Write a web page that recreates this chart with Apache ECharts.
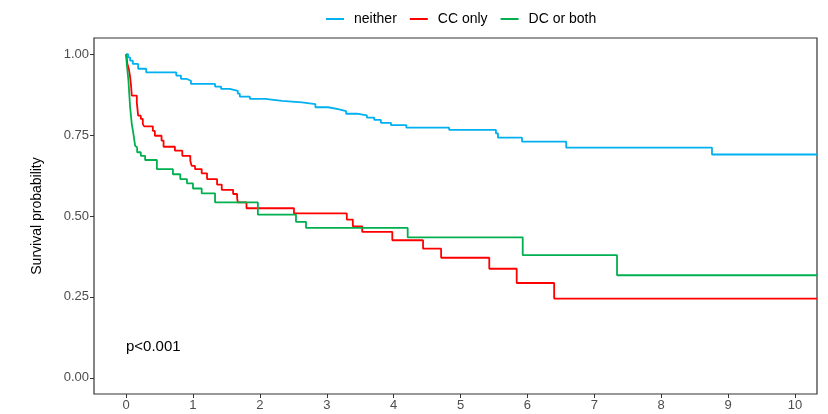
<!DOCTYPE html>
<html>
<head>
<meta charset="utf-8">
<script src="https://cdn.jsdelivr.net/npm/echarts@6/dist/echarts.min.js"></script>
<style>
html,body{margin:0;padding:0;background:#fff;}
#chart{width:828px;height:414px;}
</style>
</head>
<body>
<div id="chart"></div>
<script>
// Legend / group names
var groupNames = ['neither', 'CC only', 'DC or both'];

// Kaplan-Meier step points (time, survival)
var neitherTime = [0, 0.03, 0.06, 0.1, 0.18, 0.3, 0.75, 0.82, 0.9, 0.97, 1.33, 1.42, 1.55, 1.67, 1.7, 1.85, 2.08, 2.33, 2.63, 2.83, 3.02, 3.17, 3.29, 3.45, 3.6, 3.71, 3.81, 3.96, 4.19, 4.83, 5.53, 5.56, 5.92, 6.58, 8.76, 10.33];
var neitherSurv = [1, 0.99, 0.98, 0.97, 0.955, 0.944, 0.934, 0.924, 0.918, 0.908, 0.900, 0.893, 0.887, 0.878, 0.869, 0.862, 0.856, 0.851, 0.846, 0.836, 0.830, 0.824, 0.816, 0.811, 0.804, 0.797, 0.788, 0.781, 0.773, 0.766, 0.755, 0.742, 0.730, 0.711, 0.690, 0.690];

var ccTime = [0, 0.02, 0.04, 0.06, 0.075, 0.085, 0.16, 0.18, 0.22, 0.25, 0.27, 0.4, 0.43, 0.53, 0.56, 0.73, 0.84, 0.96, 0.98, 1.03, 1.13, 1.21, 1.36, 1.43, 1.6, 1.66, 1.67, 1.8, 2.51, 3.3, 3.39, 3.53, 3.98, 4.44, 4.71, 5.43, 5.84, 6.4, 10.33];
var ccSurv = [1, 0.97, 0.955, 0.93, 0.9, 0.872, 0.851, 0.81, 0.8, 0.784, 0.777, 0.763, 0.748, 0.733, 0.714, 0.702, 0.686, 0.67, 0.655, 0.645, 0.632, 0.614, 0.597, 0.581, 0.568, 0.555, 0.542, 0.524, 0.508, 0.489, 0.468, 0.451, 0.425, 0.399, 0.371, 0.337, 0.293, 0.245, 0.245];

var dcTime = [0, 0.01, 0.035, 0.06, 0.085, 0.11, 0.135, 0.15, 0.165, 0.22, 0.284, 0.46, 0.70, 0.81, 0.91, 1.0, 1.13, 1.33, 1.97, 2.54, 2.69, 4.21, 5.93, 7.34, 10.33];
var dcSurv = [1, 0.97, 0.918, 0.836, 0.784, 0.753, 0.717, 0.712, 0.697, 0.686, 0.673, 0.645, 0.629, 0.614, 0.601, 0.585, 0.570, 0.542, 0.504, 0.482, 0.463, 0.434, 0.379, 0.317, 0.317];

// Axis ticks
var xTicks = [0, 1, 2, 3, 4, 5, 6, 7, 8, 9, 10];
var yTicks = [0, 0.25, 0.5, 0.75, 1];
var pValueText = 'p<0.001';

function zip(t, s) { return t.map(function (v, i) { return [v, s[i]]; }); }

var colors = ['#00B0F0', '#FF0000', '#00B050'];
var font = '"Liberation Sans", Arial, Helvetica, sans-serif';

var chart = echarts.init(document.getElementById('chart'), null, {renderer: 'canvas'});

function mkSeries(name, data, color) {
  return {
    name: name, type: 'line', step: 'end', data: data,
    showSymbol: false, symbol: 'none', animation: false,
    lineStyle: {color: color, width: 1.8},
    itemStyle: {color: color}
  };
}

chart.setOption({
  animation: false,
  backgroundColor: '#fff',
  legend: {
    data: groupNames,
    left: 321, top: 7,
    icon: 'rect', itemWidth: 18, itemHeight: 2,
    itemGap: 13,
    textStyle: {fontFamily: font, fontSize: 14, color: '#000', padding: [0, 0, 0, 5]}
  },
  grid: {
    left: 94, right: 11, top: 38, bottom: 20,
    show: true, borderColor: '#333', borderWidth: 1.2, backgroundColor: '#fff'
  },
  xAxis: {
    type: 'value', min: -0.48, max: 10.33,
    axisLine: {show: false, onZero: false},
    splitLine: {show: false},
    axisTick: {show: true, inside: false, length: 4, lineStyle: {color: '#333'}, customValues: xTicks},
    axisLabel: {customValues: xTicks, fontFamily: font, fontSize: 13, color: '#4D4D4D', margin: 5,
      formatter: function (v) { return String(v); }}
  },
  yAxis: {
    type: 'value', min: -0.05, max: 1.05,
    name: 'Survival probability', nameLocation: 'middle', nameGap: 50,
    nameTextStyle: {fontFamily: font, fontSize: 14, color: '#000'},
    axisLine: {show: false, onZero: false},
    splitLine: {show: false},
    axisTick: {show: true, inside: false, length: 4, lineStyle: {color: '#333'}, customValues: yTicks},
    axisLabel: {customValues: yTicks, fontFamily: font, fontSize: 13, color: '#4D4D4D', margin: 5,
      formatter: function (v) { return v.toFixed(2); }}
  },
  graphic: [{
    type: 'text', left: 126, top: 339,
    style: {text: pValueText, fontFamily: font, fontSize: 15, fill: '#000'}
  }],
  series: [
    mkSeries(groupNames[0], zip(neitherTime, neitherSurv), colors[0]),
    mkSeries(groupNames[1], zip(ccTime, ccSurv), colors[1]),
    mkSeries(groupNames[2], zip(dcTime, dcSurv), colors[2])
  ]
});
</script>
</body>
</html>
